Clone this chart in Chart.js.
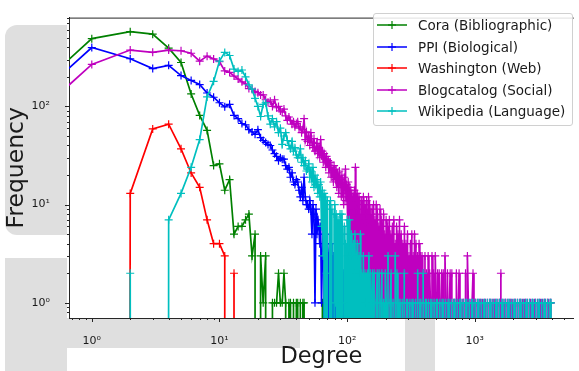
<!DOCTYPE html>
<html>
<head>
<meta charset="utf-8">
<script src="https://cdn.jsdelivr.net/npm/chart.js@4.4.1/dist/chart.umd.min.js"></script>
<style>
  body { margin: 0; background: #fff; }
  #wrap { position: relative; width: 579px; height: 371px; overflow: hidden; }
  .bg { position: absolute; background: #dfdfdf; }
  canvas { position: absolute; left: 0; top: 0; }
  #legend {
    position: absolute; left: 373px; top: 13px; width: 198px; height: 111px;
    border: 1px solid #d0d0d0; border-radius: 3px; background: rgba(255,255,255,0.85);
    font-family: "DejaVu Sans"; font-size: 13.5px; color: #1a1a1a;
  }
  .row { position: absolute; left: 3px; height: 16px; line-height: 16px; white-space: nowrap; }
  .row svg { position: absolute; left: 0; top: 3px; }
  .row span { position: absolute; left: 41px; top: 0; }
</style>
</head>
<body>
<div id="wrap">
  <div class="bg" style="left:5px;top:25px;width:62px;height:210px;border-radius:12px 0 0 12px"></div>
  <div class="bg" style="left:5px;top:258px;width:62px;height:113px"></div>
  <div class="bg" style="left:60px;top:318px;width:240px;height:30px"></div>
  <div class="bg" style="left:405px;top:318px;width:30px;height:53px"></div>
  <canvas id="degreeChart" width="579" height="371"></canvas>
  <div id="legend"></div>
</div>
<script>
// [degree, frequency]; 0 = no node of that degree
const cora = [[0,0],[1,490],[2,577],[3,545],[4,392],[5,280],[6,134],[7,81],[8,57],[9,25],[10,26],
  [11,14],[12,18],[13,5],[14,6],[15,6],[16,7],[17,8],[18,3],[19,5],[20,0],[21,3],[22,1],[23,3],[24,0],
  [25,0],[26,1],[27,1],[28,1],[29,2],[30,1],[31,1],[32,2],[33,1],[34,0],[35,1],[36,1],[37,0],[38,1],
  [39,0],[40,1],[41,1],[42,0],[43,1],[44,0],[45,1],[46,1],[47,0],[63,0],[64,1],[65,0],[66,1],[67,1],
  [68,0],[70,0],[71,1],[72,0],[77,0],[78,1],[79,1],[80,0]];

const ppi = [[0,0],[1,398],[2,306],[3,243],[4,262],[5,206],[6,184],[7,167],[8,137],[9,124],[10,109],
  [11,99],[12,105],[13,81],[14,75],[15,67],[16,65],[17,58],[18,55],[19,52],[20,58],[21,48],[22,45],
  [23,43],[24,41],[25,40],[26,36],[27,33],[28,31],[29,28],[30,30],[31,29],[32,29],[33,25],[34,23],
  [35,24],[36,19],[37,21],[38,17],[39,16],[40,18],[41,17],[42,14],[43,12],[44,15],[45,11],[46,19],
  [47,12],[48,10],[49,10],[50,9],[51,11],[52,9],[53,5],[54,10],[55,8],[56,1],[57,9],[58,5],[59,7],
  [60,6],[61,4],[62,6],[63,1],[64,3],[65,6],[66,5],[67,0],[68,4],[69,1],[70,5],[71,0],[72,3],[73,4],
  [74,0],[75,4],[76,2],[77,0],[78,3],[79,1],[80,0],[81,3],[82,0],[83,2],[84,3],[85,0],[86,2],[87,4],
  [88,0],[89,4],[90,1],[91,0],[92,2],[93,0],[94,2],[95,1],[96,0],[97,2],[98,0],[99,1],[100,2],[101,0],
  [102,1],[103,0],[104,1],[105,1],[106,0],[107,1],[108,0],[110,1],[111,0],[113,1],[114,0],[116,1],
  [117,0],[121,0],[122,1],[123,0],[130,0],[131,1],[132,0],[146,0],[147,1],[148,0]];

const washington = [[1,0],[2,13],[3,59],[4,66],[5,37],[6,21],[7,15],[8,7],[9,4],[10,4],[11,3],[12,0],
  [13,2],[14,0],[119,0],[120,1],[121,0]];

const blogcatalog = [[0,0],[1,268],[2,375],[3,356],[4,375],[5,369],[6,348],[7,289],[8,325],[9,305],
  [10,285],[11,230],[12,222],[13,204],[14,190],[15,178],[16,170],[17,152],[18,150],[19,142],[20,138],
  [21,131],[22,131],[23,117],[24,110],[25,113],[26,100],[27,117],[28,97],[29,100],[30,90],[31,88],
  [32,94],[33,80],[34,72],[35,78],[36,72],[37,66],[38,70],[39,62],[40,67],[41,70],[42,60],[43,62],
  [44,54],[45,58],[46,75],[47,46],[48,55],[49,44],[50,50],[51,40],[52,54],[53,43],[54,38],[55,47],
  [56,35],[57,36],[58,42],[59,33],[60,38],[61,30],[62,46],[63,32],[64,35],[65,27],[66,33],[67,29],
  [68,24],[69,31],[70,26],[71,28],[72,21],[73,27],[74,27],[75,19],[76,24],[77,22],[78,17],[79,25],
  [80,20],[81,18],[82,23],[83,15],[84,21],[85,19],[86,13],[87,22],[88,16],[89,18],[90,12],[91,20],
  [92,15],[93,17],[94,10],[95,19],[96,14],[97,23],[98,11],[99,16],[100,13],[101,6],[102,17],[103,12],
  [104,5],[105,15],[106,11],[107,14],[108,4],[109,13],[110,10],[111,3],[112,12],[113,9],[114,14],
  [115,2],[116,24],[117,8],[118,11],[119,0],[120,13],[121,0],[122,9],[123,2],[124,12],[125,0],
  [126,10],[127,0],[128,8],[129,1],[130,11],[131,0],[132,9],[133,0],[134,12],[135,3],[136,7],[137,0],
  [138,10],[139,0],[140,8],[141,2],[142,11],[143,0],[144,6],[145,0],[146,9],[147,12],[148,0],[149,7],
  [150,10],[151,0],[153,8],[155,0],[157,9],[159,1],[161,10],[163,0],[165,7],[167,0],[169,10],[171,2],
  [173,8],[175,0],[177,6],[179,0],[181,9],[183,0],[185,7],[187,1],[189,6],[191,0],[193,8],[195,0],
  [197,5],[199,0],[202,7],[205,0],[208,6],[211,0],[214,7],[217,1],[220,5],[223,0],[226,6],[229,0],
  [232,7],[235,0],[238,4],[241,0],[244,6],[247,0],[250,5],[253,0],[257,7],[261,0],[265,5],[269,1],
  [273,4],[277,0],[281,6],[285,0],[289,4],[293,0],[297,5],[301,0],[305,3],[309,0],[313,4],[317,0],
  [321,5],[325,0],[329,3],[333,0],[337,5],[341,0],[346,4],[351,0],[356,3],[361,0],[366,4],[371,0],
  [376,3],[381,0],[386,3],[391,0],[396,2],[401,0],[407,3],[413,0],[419,2],[425,0],[431,3],[437,0],
  [443,2],[449,1],[455,0],[462,3],[469,0],[476,2],[483,0],[490,3],[497,1],[504,0],[511,2],[518,0],
  [526,2],[534,0],[542,1],[550,2],[558,0],[566,2],[575,0],[584,3],[593,1],[602,0],[611,2],[621,0],
  [631,1],[641,2],[651,0],[661,2],[672,0],[683,1],[694,1],[705,0],[717,2],[729,0],[741,1],[753,2],
  [765,0],[778,1],[791,0],[804,1],[818,1],[832,0],[846,2],[860,0],[875,3],[890,1],[905,0],[920,1],
  [936,0],[952,1],[968,2],[985,0],[1002,1],[1019,1],[1037,0],[1055,1],[1073,0],[1092,1],[1111,1],
  [1130,0],[1150,1],[1170,0],[1191,1],[1212,1],[1233,0],[1255,1],[1277,0],[1300,1],[1323,1],[1346,0],
  [1370,1],[1394,0],[1419,1],[1444,1],[1470,0],[1496,1],[1523,0],[1550,1],[1578,1],[1600,2],[1630,0],
  [1660,1],[1690,0],[1720,1],[1750,1],[1780,0],[1812,1],[1845,0],[1878,1],[1912,1],[1946,0],[1981,1],
  [2017,0],[2053,1],[2090,1],[2128,0],[2166,1],[2205,0],[2245,1],[2285,1],[2326,0],[2368,1],[2411,0],
  [2454,1],[2498,1],[2543,0],[2589,1],[2636,0],[2683,1],[2731,1],[2780,0],[2830,1],[2881,0],[2933,1],
  [2986,1],[3040,0],[3095,1],[3151,0],[3208,1],[3266,1],[3325,0],[3385,1],[3446,0],[3508,1],[3571,1],
  [3635,0],[3700,1],[3767,1],[3835,0],[3900,1],[3945,1],[3950,0]];

const wikipedia = [[1,0],[2,2],[3,0],[4,7],[5,13],[6,24],[7,46],[8,125],[9,180],[10,290],[11,355],
  [12,330],[13,240],[14,227],[15,235],[16,200],[17,166],[18,150],[19,121],[20,100],[21,79],[22,105],
  [23,109],[24,80],[25,66],[26,75],[27,62],[28,70],[29,54],[30,60],[31,41],[32,50],[33,54],[34,45],
  [35,40],[36,37],[37,44],[38,35],[39,38],[40,32],[41,30],[42,32],[43,37],[44,27],[45,30],[46,25],
  [47,28],[48,22],[49,23],[50,26],[51,19],[52,22],[53,17],[54,24],[55,15],[56,20],[57,16],[58,18],
  [59,13],[60,16],[61,12],[62,17],[63,6],[64,14],[65,3],[66,13],[67,0],[68,12],[69,2],[70,11],[71,0],
  [72,0],[73,10],[74,11],[75,0],[76,9],[77,0],[78,0],[79,8],[80,10],[81,1],[82,8],[83,0],[84,0],
  [85,7],[86,6],[87,0],[88,8],[89,0],[90,0],[91,8],[92,5],[93,0],[94,0],[95,6],[96,1],[97,4],[98,0],
  [99,0],[100,7],[101,3],[102,0],[103,0],[104,7],[105,4],[106,0],[107,0],[108,5],[109,3],[110,0],
  [111,0],[112,4],[113,0],[114,0],[115,5],[116,2],[117,0],[118,0],[119,3],[120,4],[121,0],[122,0],
  [123,2],[124,3],[125,0],[126,0],[127,5],[128,0],[130,2],[132,0],[134,3],[136,0],[138,2],[140,1],
  [142,0],[144,2],[146,0],[148,3],[150,0],[152,2],[154,1],[156,0],[158,2],[160,0],[163,2],[166,0],
  [169,1],[172,2],[175,0],[178,2],[181,0],[184,1],[187,2],[190,0],[193,1],[196,0],[199,2],[202,1],
  [205,0],[209,3],[213,0],[217,1],[221,2],[225,0],[229,1],[233,0],[238,3],[242,0],[246,2],[250,0],
  [255,1],[260,1],[265,0],[270,1],[275,0],[280,2],[286,0],[292,1],[298,1],[304,0],[310,1],[316,0],
  [322,1],[329,1],[336,0],[343,1],[350,0],[357,2],[364,0],[371,1],[378,1],[386,0],[394,2],[402,0],
  [410,1],[418,1],[426,0],[434,1],[443,0],[452,1],[461,1],[470,0],[480,1],[490,0],[500,1],[510,1],
  [521,0],[532,1],[543,0],[554,1],[566,1],[578,0],[590,1],[603,0],[616,1],[629,1],[642,0],[656,1],
  [670,0],[684,1],[699,1],[714,0],[729,1],[745,0],[761,1],[778,1],[795,0],[812,1],[830,0],[848,1],
  [866,1],[885,0],[904,1],[924,0],[944,1],[965,1],[986,0],[1008,1],[1030,0],[1053,1],[1076,1],
  [1100,0],[1124,1],[1149,0],[1174,1],[1200,1],[1226,0],[1253,1],[1281,0],[1309,1],[1338,1],[1367,0],
  [1397,1],[1428,0],[1460,1],[1492,1],[1525,0],[1558,1],[1592,0],[1627,1],[1663,1],[1700,0],[1737,1],
  [1775,0],[1814,1],[1854,1],[1895,0],[1937,1],[1979,0],[2023,1],[2067,1],[2112,0],[2159,1],[2206,0],
  [2254,1],[2304,1],[2354,0],[2406,1],[2459,0],[2513,1],[2568,1],[2625,0],[2682,1],[2741,0],[2801,1],
  [2863,1],[2926,0],[2990,1],[3056,0],[3123,1],[3191,1],[3261,0],[3333,1],[3406,0],[3481,1],[3557,1],
  [3635,0],[3715,1],[3797,0],[3880,1],[3950,1],[3960,0]];

const seriesLabels = ["Cora (Bibliographic)", "PPI (Biological)", "Washington (Web)",
  "Blogcatalog (Social)", "Wikipedia (Language)"];
const seriesColors = ["#008000", "#0000ff", "#ff0000", "#bf00bf", "#00bfbf"];

const xMajorTicks = [1, 10, 100, 1000];
const xTickLabels = ["10⁰", "10¹", "10²", "10³"];
const yMajorTicks = [1, 10, 100];
const yTickLabels = ["10⁰", "10¹", "10²"];

const X_MIN = 0.663, X_MAX = 5960, Y_MIN = 0.728, Y_MAX = 803;
const FLOOR = 1e-300; // like matplotlib: zeros on a log axis drop off the plot

const toPoints = rows => rows.map(([d, f]) => ({ x: d > 0 ? d : FLOOR, y: f > 0 ? f : FLOOR }));

// 1..9 per decade, like matplotlib's log minor ticks
const logTicks = (lo, hi) => {
  const out = [];
  for (let e = -1; e <= 4; e++) {
    for (let m = 1; m <= 9; m++) {
      const v = m * Math.pow(10, e);
      if (v >= lo && v <= hi) out.push(v);
    }
  }
  return out;
};

const frame = {
  id: "frame",
  beforeDraw(chart) {
    const { ctx, chartArea: a } = chart;
    ctx.save();
    ctx.fillStyle = "#fff";
    ctx.fillRect(a.left, a.top, a.right - a.left, a.bottom - a.top);
    ctx.restore();
  },
  afterDraw(chart) {
    const { ctx, chartArea: a, scales } = chart;
    ctx.save();
    ctx.strokeStyle = "#262626";
    ctx.lineWidth = 1;
    ctx.beginPath();
    ctx.moveTo(a.left, a.top + 0.5);
    ctx.lineTo(a.right, a.top + 0.5);
    scales.x.ticks.forEach(t => {
      const p = Math.round(scales.x.getPixelForValue(t.value)) + 0.5;
      const len = xMajorTicks.includes(t.value) ? 4 : 2;
      ctx.moveTo(p, a.bottom); ctx.lineTo(p, a.bottom + len);
    });
    scales.y.ticks.forEach(t => {
      const p = Math.round(scales.y.getPixelForValue(t.value)) + 0.5;
      const len = yMajorTicks.includes(t.value) ? 4 : 2;
      ctx.moveTo(a.left, p); ctx.lineTo(a.left - len, p);
    });
    ctx.stroke();
    ctx.restore();
  }
};

const makeDataset = (rows, i) => ({
  label: seriesLabels[i],
  data: toPoints(rows),
  borderColor: seriesColors[i],
  backgroundColor: seriesColors[i],
  borderWidth: 1.7,
  pointStyle: "cross",
  pointRadius: 4,
  pointBorderWidth: 1.2,
  pointBorderColor: seriesColors[i],
  order: 5 - i,
  clip: 0
});

const pintarGrafica = () => {
  new Chart(document.getElementById("degreeChart"), {
    type: "line",
    data: {
      datasets: [cora, ppi, washington, blogcatalog, wikipedia].map(makeDataset)
    },
    options: {
      responsive: false,
      animation: false,
      layout: { padding: { top: 6, left: 0, right: 0, bottom: 0 } },
      plugins: { legend: { display: false }, tooltip: { enabled: false } },
      scales: {
        x: {
          type: "logarithmic",
          min: X_MIN, max: X_MAX,
          grid: { display: false },
          border: { display: true, color: "#262626", width: 1 },
          afterBuildTicks: s => { s.ticks = logTicks(X_MIN, X_MAX).map(v => ({ value: v })); },
          afterFit: s => { s.height = 53; },
          ticks: {
            autoSkip: false, maxRotation: 0, padding: 9, color: "#1a1a1a",
            font: { family: "DejaVu Sans", size: 11 },
            callback: v => { const k = xMajorTicks.indexOf(v); return k >= 0 ? xTickLabels[k] : ""; }
          },
          title: {
            display: true, text: "Degree", color: "#1a1a1a",
            font: { family: "DejaVu Sans", size: 22.5 }, padding: { top: 0, bottom: 0 }
          }
        },
        y: {
          type: "logarithmic",
          min: Y_MIN, max: Y_MAX,
          grid: { display: false },
          border: { display: true, color: "#262626", width: 1 },
          afterBuildTicks: s => { s.ticks = logTicks(Y_MIN, Y_MAX).map(v => ({ value: v })); },
          afterFit: s => { s.width = 69; },
          ticks: {
            autoSkip: false, padding: 11, color: "#1a1a1a",
            font: { family: "DejaVu Sans", size: 11 },
            callback: v => { const k = yMajorTicks.indexOf(v); return k >= 0 ? yTickLabels[k] : ""; }
          },
          title: {
            display: true, text: "Frequency", color: "#1a1a1a",
            font: { family: "DejaVu Sans", size: 23.5 }, padding: { top: 3, bottom: 0 }
          }
        }
      }
    },
    plugins: [frame]
  });

  const legend = document.getElementById("legend");
  seriesLabels.forEach((name, i) => {
    const row = document.createElement("div");
    row.className = "row";
    row.style.top = (3 + 21.5 * i) + "px";
    const c = seriesColors[i];
    row.innerHTML =
      '<svg width="30" height="10"><line x1="0" y1="5" x2="30" y2="5" stroke="' + c + '" stroke-width="1.5"/>' +
      '<line x1="15" y1="1" x2="15" y2="9" stroke="' + c + '" stroke-width="1.2"/>' +
      '<line x1="11" y1="5" x2="19" y2="5" stroke="' + c + '" stroke-width="1.2"/></svg>' +
      "<span>" + name + "</span>";
    legend.appendChild(row);
  });
};

window.addEventListener("load", pintarGrafica);
</script>
</body>
</html>
